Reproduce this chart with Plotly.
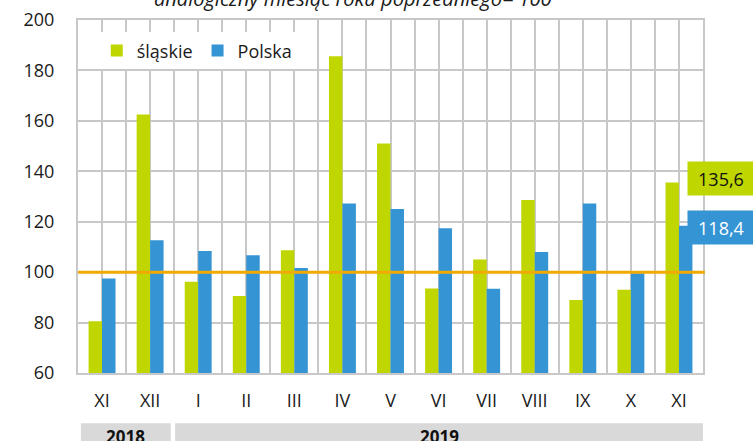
import plotly.graph_objects as go

months = ["XI", "XII", "I", "II", "III", "IV", "V", "VI", "VII", "VIII", "IX", "X", "XI"]
slaskie = [80.5, 162.5, 96.2, 90.5, 108.7, 185.6, 151.0, 93.5, 105.0, 128.6, 89.0, 93.0, 135.6]
polska = [97.5, 112.6, 108.4, 106.7, 101.6, 127.2, 125.0, 117.4, 93.4, 108.0, 127.2, 99.6, 118.4]
years = ["2018", "2019"]
year_spans = [(0, 1), (2, 12)]
title = "analogiczny miesiąc roku poprzedniego= 100"

GREEN = "#bfd600"
BLUE = "#3494d4"
ORANGE = "#f2a900"
GRID = "#c8c8c8"
FONT = "Open Sans"

xpos = list(range(len(months)))

fig = go.Figure()
fig.add_trace(go.Bar(x=xpos, y=slaskie, name="śląskie", marker=dict(color=GREEN, line_width=0)))
fig.add_trace(go.Bar(x=xpos, y=polska, name="Polska", marker=dict(color=BLUE, line_width=0)))

fig.update_layout(
    width=753, height=441,
    margin=dict(l=78, r=50, t=20, b=68, autoexpand=False),
    paper_bgcolor="white", plot_bgcolor="white",
    barmode="group", bargap=0.44, bargroupgap=0,
    font=dict(family=FONT, size=18, color="#1a1a1a"),
    legend=dict(orientation="h", x=0.03, y=0.965, xanchor="left", yanchor="top",
                bgcolor="white", font=dict(size=18), itemwidth=30,
                traceorder="normal"),
    showlegend=True,
)
fig.update_xaxes(
    range=[-0.5, len(months) - 0.5],
    tickvals=xpos, ticktext=months, ticks="", ticklabelstandoff=10,
    showgrid=True, gridcolor=GRID, gridwidth=2,
    minor=dict(tickvals=[i - 0.5 for i in range(len(months) + 1)], showgrid=True,
               gridcolor=GRID, gridwidth=2),
    showline=True, linecolor=GRID, linewidth=2, mirror=True, zeroline=False,
    tickfont=dict(size=18),
)
fig.update_yaxes(
    range=[60, 200], dtick=20, showgrid=True, gridcolor=GRID, gridwidth=2,
    showline=True, linecolor=GRID, linewidth=2, mirror=True, zeroline=False,
    tickfont=dict(size=18), ticks="", ticklabelstandoff=18,
)

# reference line at 100
fig.add_shape(type="line", xref="paper", yref="y", x0=0, x1=1.003, y0=100, y1=100,
              line=dict(color=ORANGE, width=3), layer="above")

# title (partly cut at top, as in the reference)
fig.add_annotation(text="<i>" + title + "</i>", xref="paper", yref="paper",
                   x=0.44, y=1.0, yshift=6, showarrow=False, font=dict(size=20),
                   xanchor="center", yanchor="bottom")

# year bands
band_left = [-0.44, 1.52]
band_right = [1.43, 12.5]
for yr, (a, b), x0, x1 in zip(years, year_spans, band_left, band_right):
    fig.add_shape(type="rect", xref="x", yref="paper", x0=x0, x1=x1,
                  y0=-0.142, y1=-0.25, fillcolor="#d9d9d9", line_width=0, layer="below")
    fig.add_annotation(text="<b>" + yr + "</b>", xref="x", yref="paper", x=(x0 + x1) / 2,
                       y=-0.142, yanchor="top", showarrow=False, font=dict(size=17, color="#111"))

# last value labels
last = len(months) - 1
fig.add_annotation(text=f"{slaskie[-1]:.1f}".replace(".", ","), x=last, y=slaskie[-1],
                   xref="x", yref="y", xshift=42, yshift=4, showarrow=False,
                   bgcolor=GREEN, font=dict(size=18, color="#111"), borderpad=4,
                   width=58, height=25)
fig.add_annotation(text=f"{polska[-1]:.1f}".replace(".", ","), x=last, y=polska[-1],
                   xref="x", yref="y", xshift=42, yshift=-2, showarrow=False,
                   bgcolor=BLUE, font=dict(size=18, color="white"), borderpad=4,
                   width=58, height=25)

fig.write_html("out.html", config={"displayModeBar": False},
               post_script="document.body.style.margin='0px';")
